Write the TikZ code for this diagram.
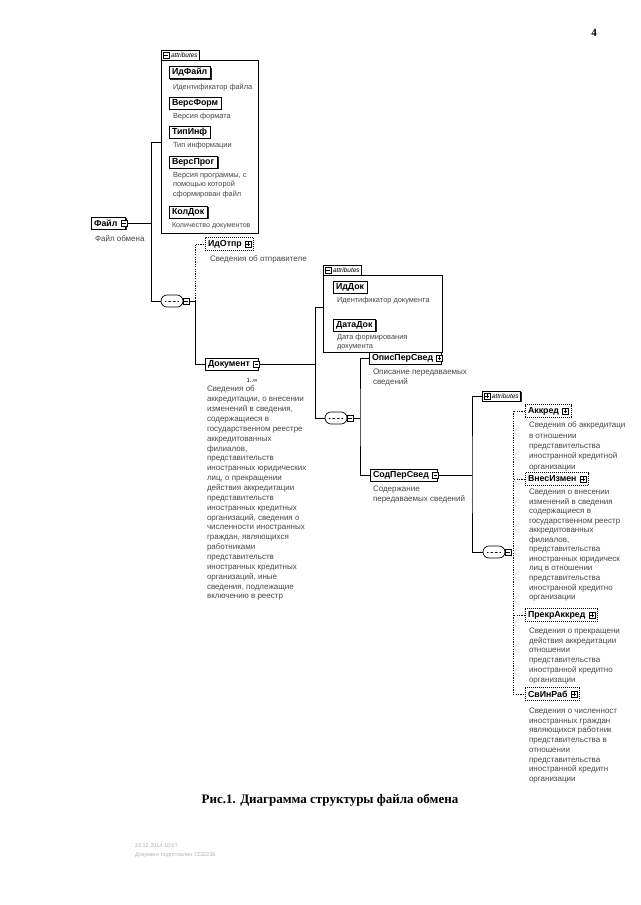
\documentclass[tikz,border=0pt]{standalone}
\usepackage{fontspec}
\setmainfont{Liberation Sans}
\newfontfamily\capfont{Liberation Serif}
\usetikzlibrary{shapes.misc,shadows}
\begin{document}
\begin{tikzpicture}[x=1pt,y=-1pt,
  every node/.style={inner sep=0pt,outer sep=0pt},
  lbl/.style={font=\bfseries\fontsize{8.8}{10}\selectfont},
  elem/.style={lbl,draw,line width=0.7pt,fill=white,inner xsep=3pt,minimum height=12pt,anchor=west,
     drop shadow={shadow xshift=1.3pt,shadow yshift=-1.3pt,fill=black,opacity=0.85}},
  opt/.style={lbl,draw,line width=0.6pt,dash pattern=on 1pt off 1pt,inner xsep=3pt,minimum height=12.5pt,anchor=west},
  desc/.style={font=\fontsize{8}{9.8}\selectfont,text=black!72,align=left,anchor=north west},
  adesc/.style={desc,font=\fontsize{7.4}{9.8}\selectfont},
  icn/.style={draw,fill=white,line width=0.5pt,minimum size=6pt},
  minusi/.style={icn,path picture={\draw[line width=0.5pt] ([xshift=1.2pt]path picture bounding box.west) -- ([xshift=-1.2pt]path picture bounding box.east);}},
  plusi/.style={icn,path picture={\draw[line width=0.5pt] ([xshift=1.2pt]path picture bounding box.west) -- ([xshift=-1.2pt]path picture bounding box.east) ([yshift=-1.2pt]path picture bounding box.north) -- ([yshift=1.2pt]path picture bounding box.south);}},
  seq/.style={draw,rounded rectangle,line width=0.7pt,fill=white,minimum width=22pt,minimum height=12pt,
     path picture={\draw[line width=0.8pt] ([xshift=-7pt]path picture bounding box.center) -- ([xshift=7pt]path picture bounding box.center);
       \fill ([xshift=-4.5pt]path picture bounding box.center) circle (1.4);
       \fill (path picture bounding box.center) circle (1.4);
       \fill ([xshift=4.5pt]path picture bounding box.center) circle (1.4);}},
  tab/.style={draw,line width=0.7pt,fill=white,anchor=south west,minimum height=10pt,font=\itshape\fontsize{6.5}{7}\selectfont,inner xsep=2pt},
  body/.style={draw,line width=0.7pt,fill=white,anchor=north west},
  conn/.style={line width=0.8pt},
  dconn/.style={line width=0.7pt,dash pattern=on 1.2pt off 1.2pt},
]
\fill[white] (0,0) rectangle (640,905);
\useasboundingbox (0,0) rectangle (640,905);

\node[font=\capfont\bfseries\fontsize{11}{12}\selectfont] (pg) at (594,33) {4};

% root
\node[elem] (Fajl) at (91,223) {Файл\hspace*{5pt}};
\node[minusi] (FajlI) at ([xshift=-1.5pt]Fajl.east) {};
\node[desc] (FajlD) at (95,236) {Файл обмена};

% attributes 1
\node[body,minimum width=97pt,minimum height=173pt] (A1) at (161,60) {};
\node[tab] (A1t) at (161,60) {\hspace*{8pt}attributes};
\node[minusi,minimum size=5.5pt] (A1tI) at ([xshift=5pt]A1t.west) {};
\node[elem] (IdFajl) at (169,72.5) {ИдФайл};
\node[adesc] (IdFajlD) at (173,84) {Идентификатор файла};
\node[elem] (VersForm) at (169,103) {ВерсФорм};
\node[adesc] (VersFormD) at (173,113) {Версия формата};
\node[elem] (TipInf) at (169,132) {ТипИнф};
\node[adesc] (TipInfD) at (173,142) {Тип информации};
\node[elem] (VersProg) at (169,162) {ВерсПрог};
\node[adesc] (VersProgD) at (173,172) {Версия программы, с\\помощью которой\\сформирован файл};
\node[elem] (KolDok) at (169,212) {КолДок};
\node[adesc,font=\fontsize{7.1}{9}\selectfont] (KolDokD) at (172,223) {Количество документов};

% sequence 1
\node[seq] (S1) at (172,301) {};
\node[minusi] (S1I) at ([xshift=3pt]S1.east) {};

% ИдОтпр
\node[opt] (IdOtpr) at (205,244) {ИдОтпр\hspace*{9pt}};
\node[plusi] (IdOtprI) at ([xshift=-5.5pt]IdOtpr.east) {};
\node[desc] (IdOtprD) at (210,256) {Сведения об отправителе};

% Документ
\node[elem] (Dok) at (205,364) {Документ\hspace*{5pt}};
\node[minusi] (DokI) at ([xshift=-1.5pt]Dok.east) {};
\node[font=\fontsize{6}{7}\selectfont] (DokM) at (252,380) {1..∞};
\node[desc,font=\fontsize{8}{9.86}\selectfont] (DokD) at (207,386) {Сведения об\\аккредитации, о внесении\\изменений в сведения,\\содержащиеся в\\государственном реестре\\аккредитованных\\филиалов,\\представительств\\иностранных юридических\\лиц, о прекращении\\действия аккредитации\\представительств\\иностранных кредитных\\организаций, сведения о\\численности иностранных\\граждан, являющихся\\работниками\\представительств\\иностранных кредитных\\организаций, иные\\сведения, подлежащие\\включению в реестр};

% attributes 2
\node[body,minimum width=119pt,minimum height=77pt] (A2) at (323,275) {};
\node[tab] (A2t) at (323,275) {\hspace*{8pt}attributes};
\node[minusi,minimum size=5.5pt] (A2tI) at ([xshift=5pt]A2t.west) {};
\node[elem] (IdDok) at (333,287) {ИдДок};
\node[adesc] (IdDokD) at (337,297) {Идентификатор документа};
\node[elem] (DataDok) at (333,325) {ДатаДок};
\node[adesc,font=\fontsize{7.4}{9.5}\selectfont] (DataDokD) at (337,334) {Дата формирования\\документа};

% sequence 2
\node[seq] (S2) at (336,418) {};
\node[minusi] (S2I) at ([xshift=3pt]S2.east) {};

\node[elem] (Opis) at (369,358) {ОписПерСвед\hspace*{5pt}};
\node[plusi] (OpisI) at ([xshift=-1.5pt]Opis.east) {};
\node[desc] (OpisD) at (373,369) {Описание передаваемых\\сведений};

\node[elem] (Sod) at (370,475) {СодПерСвед\hspace*{5pt}};
\node[minusi] (SodI) at ([xshift=-1.5pt]Sod.east) {};
\node[desc] (SodD) at (373,486) {Содержание\\передаваемых сведений};

% attributes 3 (collapsed)
\node[tab,anchor=west,drop shadow={shadow xshift=1.2pt,shadow yshift=-1.2pt,fill=black,opacity=0.85}] (A3t) at (482,396) {\hspace*{8pt}attributes};
\node[plusi,minimum size=5.5pt] (A3tI) at ([xshift=5pt]A3t.west) {};

% sequence 3
\node[seq] (S3) at (494,552) {};
\node[minusi] (S3I) at ([xshift=3pt]S3.east) {};

\node[opt] (Akk) at (525,411) {Аккред\hspace*{9pt}};
\node[plusi] (AkkI) at ([xshift=-5.5pt]Akk.east) {};
\node[desc,font=\fontsize{8}{10.3}\selectfont] (AkkD) at (529,422) {Сведения об аккредитаци\\в отношении\\представительства\\иностранной кредитной\\организации};

\node[opt] (Vnes) at (525,479) {ВнесИзмен\hspace*{9pt}};
\node[plusi] (VnesI) at ([xshift=-5.5pt]Vnes.east) {};
\node[desc,font=\fontsize{8}{9.55}\selectfont] (VnesD) at (529,489) {Сведения о внесении\\изменений в сведения\\содержащиеся в\\государственном реестр\\аккредитованных\\филиалов,\\представительства\\иностранных юридическ\\лиц в отношении\\представительства\\иностранной кредитно\\организации};

\node[opt] (Prekr) at (525,615) {ПрекрАккред\hspace*{9pt}};
\node[plusi] (PrekrI) at ([xshift=-5.5pt]Prekr.east) {};
\node[desc,font=\fontsize{8}{9.7}\selectfont] (PrekrD) at (529,628) {Сведения о прекращени\\действия аккредитации\\отношении\\представительства\\иностранной кредитно\\организации};

\node[opt] (SvIn) at (525,694) {СвИнРаб\hspace*{9pt}};
\node[plusi] (SvInI) at ([xshift=-5.5pt]SvIn.east) {};
\node[desc,font=\fontsize{8}{9.7}\selectfont] (SvInD) at (529,708) {Сведения о численност\\иностранных граждан\\являющихся работник\\представительства в\\отношении\\представительства\\иностранной кредитн\\организации};

% caption and stamp
\node[font=\capfont\bfseries\fontsize{13}{15}\selectfont] (cap) at (330,800) {Рис.1. Диаграмма структуры файла обмена};
\node[font=\fontsize{5.5}{9}\selectfont,text=black!30,align=left,anchor=north west] (stamp) at (135,844) {22.12.2014 10:07\\Документ подготовлен 7232236};

% connectors
\coordinate (J1) at (151,223);
\coordinate (J1a) at (151,142);
\draw[conn] (FajlI.east) -- (J1);
\draw[conn] (A1.west |- J1a) -- (J1a) |- (S1.west);
\coordinate (J2) at (195,301);
\draw[conn] (S1I.east) -- (J2) |- (Dok.west);
\draw[dconn] (J2) |- (IdOtpr.west);
\coordinate (J3) at (315,364);
\coordinate (J3a) at (315,307);
\draw[conn] (DokI.east) -- (J3);
\draw[conn] (A2.west |- J3a) -- (J3a) |- (S2.west);
\coordinate (J4) at (360,418);
\draw[conn] (S2I.east) -- (J4);
\draw[conn] (Opis.west) -| (J4) |- (Sod.west);
\coordinate (J5) at (472,475);
\draw[conn] (SodI.east) -- (J5);
\draw[conn] (A3t.west) -| (J5) |- (S3.west);
\coordinate (J6) at (513,552);
\draw[dconn] (S3I.east) -- (J6);
\draw[dconn] (Akk.west) -| (J6) |- (SvIn.west);
\draw[dconn] (Vnes.west) -- (Vnes.west -| J6);
\draw[dconn] (Prekr.west) -- (Prekr.west -| J6);
\end{tikzpicture}
\end{document}
